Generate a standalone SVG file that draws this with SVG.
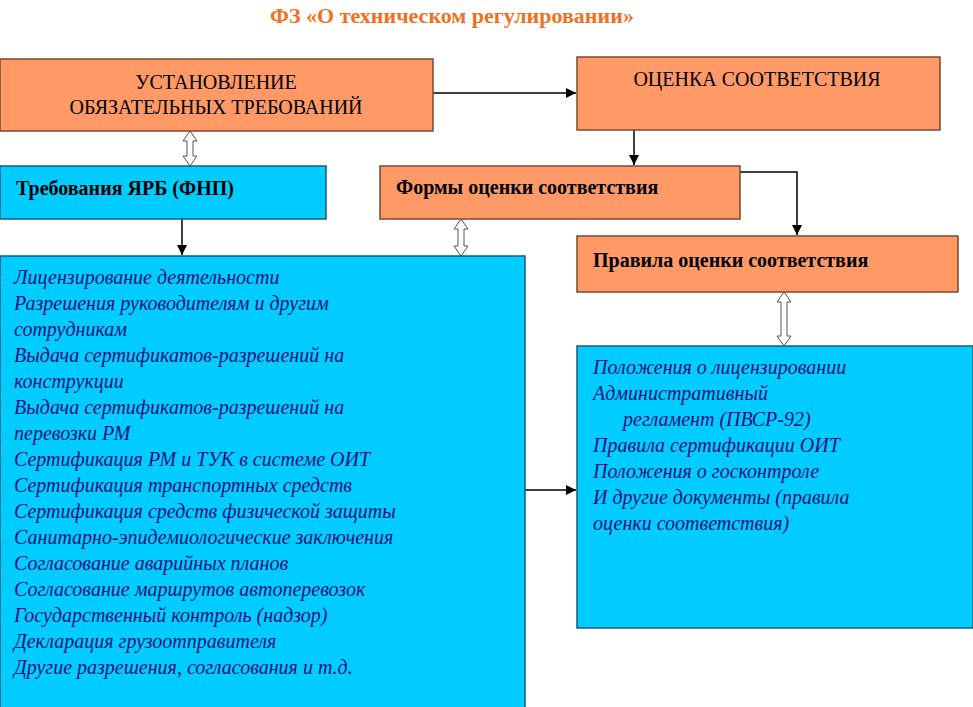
<svg xmlns="http://www.w3.org/2000/svg" width="973" height="707" viewBox="0 0 973 707">
<defs>
<style>
.o{fill:#FF9966;stroke:#7a4a30;stroke-width:1.5}
.b{fill:#00CCFF;stroke:#1a5a80;stroke-width:1.5}
.t{font-family:"Liberation Serif",serif;font-size:20px;fill:#000}
.i{font-family:"Liberation Serif",serif;font-size:20px;font-style:italic;fill:#12127a}
.ln{stroke:#000;stroke-width:1.5;fill:none}
.da{fill:#fff;stroke:#555;stroke-width:1}
</style>
<marker id="ar" viewBox="0 0 10 10" refX="10" refY="5" markerWidth="7" markerHeight="7" orient="auto"><path d="M0,0L10,5L0,10z" fill="#000"/></marker>
</defs>
<rect width="973" height="707" fill="#fff"/>
<text x="452" y="23" text-anchor="middle" style="font-family:'Liberation Serif',serif;font-size:22px;font-weight:bold;fill:#F07020">ФЗ «О техническом регулировании»</text>
<g id="connectors">
<line class="ln" x1="433" y1="93" x2="576" y2="93" marker-end="url(#ar)"/>
<line class="ln" x1="634" y1="130" x2="634" y2="165" marker-end="url(#ar)"/>
<polyline class="ln" points="740,172 797,172 797,235" marker-end="url(#ar)"/>
<line class="ln" x1="182" y1="219" x2="182" y2="255" marker-end="url(#ar)"/>
<line class="ln" x1="525" y1="490" x2="576" y2="490" marker-end="url(#ar)"/>
<path class="da" d="M190,131 L197,141 L193,141 L193,156 L197,156 L190,166 L183,156 L187,156 L187,141 L183,141 Z"/>
<path class="da" d="M461,219 L468,229 L464,229 L464,246 L468,246 L461,256 L454,246 L458,246 L458,229 L454,229 Z"/>
<path class="da" d="M784,292 L791,302 L787,302 L787,336 L791,336 L784,346 L777,336 L781,336 L781,302 L777,302 Z"/>
</g>
<g id="n1"><rect class="o" x="0" y="59" width="433" height="72"/>
<text class="t" x="216" y="89" text-anchor="middle">УСТАНОВЛЕНИЕ</text>
<text class="t" x="216" y="114" text-anchor="middle">ОБЯЗАТЕЛЬНЫХ ТРЕБОВАНИЙ</text></g>
<g id="n2"><rect class="o" x="577" y="57" width="363" height="73"/>
<text class="t" x="757" y="86" text-anchor="middle">ОЦЕНКА СООТВЕТСТВИЯ</text></g>
<g id="n3"><rect class="b" x="0" y="166" width="326" height="53"/>
<text class="t" x="16" y="195" style="font-weight:bold">Требования ЯРБ (ФНП)</text></g>
<g id="n4"><rect class="o" x="380" y="166" width="360" height="53"/>
<text class="t" x="396" y="194" style="font-weight:bold">Формы оценки соответствия</text></g>
<g id="n5"><rect class="o" x="577" y="236" width="381" height="56"/>
<text class="t" x="593" y="267" style="font-weight:bold">Правила оценки соответствия</text></g>
<g id="n6"><rect class="b" x="0" y="256" width="525" height="460"/>
<text class="i" x="14" y="284">Лицензирование деятельности</text>
<text class="i" x="14" y="310">Разрешения руководителям и другим</text>
<text class="i" x="14" y="336">сотрудникам</text>
<text class="i" x="14" y="362">Выдача сертификатов-разрешений на</text>
<text class="i" x="14" y="388">конструкции</text>
<text class="i" x="14" y="414">Выдача сертификатов-разрешений на</text>
<text class="i" x="14" y="440">перевозки РМ</text>
<text class="i" x="14" y="466">Сертификация РМ и ТУК в системе ОИТ</text>
<text class="i" x="14" y="492">Сертификация транспортных средств</text>
<text class="i" x="14" y="518">Сертификация средств физической защиты</text>
<text class="i" x="14" y="544">Санитарно-эпидемиологические заключения</text>
<text class="i" x="14" y="570">Согласование аварийных планов</text>
<text class="i" x="14" y="596">Согласование маршрутов автоперевозок</text>
<text class="i" x="14" y="622">Государственный контроль (надзор)</text>
<text class="i" x="14" y="648">Декларация грузоотправителя</text>
<text class="i" x="14" y="674">Другие разрешения, согласования и т.д.</text></g>
<g id="n7"><rect class="b" x="577" y="346" width="396" height="282"/>
<text class="i" x="593" y="374">Положения о лицензировании</text>
<text class="i" x="593" y="400">Административный</text>
<text class="i" x="623" y="426">регламент (ПВСР-92)</text>
<text class="i" x="593" y="452">Правила сертификации ОИТ</text>
<text class="i" x="593" y="478">Положения о госконтроле</text>
<text class="i" x="593" y="504">И другие документы (правила</text>
<text class="i" x="593" y="530">оценки соответствия)</text></g>
</svg>
